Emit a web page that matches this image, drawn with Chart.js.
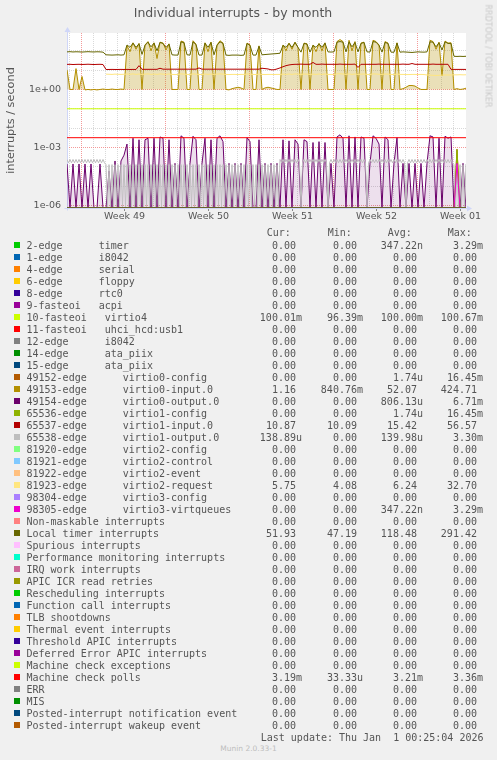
<!DOCTYPE html>
<html>
<head>
<meta charset="utf-8">
<script src="https://cdn.jsdelivr.net/npm/chart.js@4.4.1/dist/chart.umd.min.js"></script>
<style>
  html, body { margin: 0; padding: 0; background: #F0F0F0; }
  body { width: 497px; height: 760px; position: relative; overflow: hidden; }
  #chart { position: absolute; left: 0; top: 0; }
  .t { position: absolute; white-space: pre; font-family: 'DejaVu Sans Mono', monospace; font-size: 10px; line-height: 12px; color: #555; }
  .sw { position: absolute; width: 6px; height: 6px; }
  #rrd { position: absolute; left: 488px; top: 56px; transform: translate(-50%, -50%) rotate(90deg); white-space: nowrap; font-family: 'DejaVu Sans', sans-serif; font-size: 8px; color: #c8c8c8; }
  #munin { position: absolute; left: 0; width: 497px; top: 744px; text-align: center; font-family: 'DejaVu Sans', sans-serif; font-size: 7.5px; line-height: 10px; color: #bdbdbd; }
</style>
</head>
<body>
<canvas id="chart" width="497" height="230"></canvas>
<div id="rrd">RRDTOOL / TOBI OETIKER</div>
<div id="legend"></div>
<div id="munin">Munin 2.0.33-1</div>
<script>
// ---------- data ----------
const chartTitle = 'Individual interrupts - by month';
const yAxisTitle = 'interrupts / second';

// sample times, days from the left edge of the graph
const sampleDays = [0,0.25,0.5,0.75,1,1.25,1.5,1.75,2,2.25,2.5,2.75,3,3.25,3.5,3.75,4,4.25,4.5,4.75,5,5.25,5.5,5.75,6,6.25,6.5,6.75,7,7.25,7.5,7.75,8,8.25,8.5,8.75,9,9.25,9.5,9.75,10,10.25,10.5,10.75,11,11.25,11.5,11.75,12,12.25,12.5,12.75,13,13.25,13.5,13.75,14,14.25,14.5,14.75,15,15.25,15.5,15.75,16,16.25,16.5,16.75,17,17.25,17.5,17.75,18,18.25,18.5,18.75,19,19.25,19.5,19.75,20,20.25,20.5,20.75,21,21.25,21.5,21.75,22,22.25,22.5,22.75,23,23.25,23.5,23.75,24,24.25,24.5,24.75,25,25.25,25.5,25.75,26,26.25,26.5,26.75,27,27.25,27.5,27.75,28,28.25,28.5,28.75,29,29.25,29.5,29.75,30,30.25,30.5,30.75,31,31.25,31.5,31.75,32,32.25,32.5,32.75,33,33.25];
// finer sample times used for the virtio1-output series
const fineDays = [
 0,0.125,0.25,0.375,0.5,0.625,0.75,0.875, 1,1.125,1.25,1.375,1.5,1.625,1.75,1.875,
 2,2.125,2.25,2.375,2.5,2.625,2.75,2.875, 3,3.125,3.25,3.375,3.5,3.625,3.75,3.875,
 4,4.125,4.25,4.375,4.5,4.625,4.75,4.875, 5,5.125,5.25,5.375,5.5,5.625,5.75,5.875,
 6,6.125,6.25,6.375,6.5,6.625,6.75,6.875, 7,7.125,7.25,7.375,7.5,7.625,7.75,7.875,
 8,8.125,8.25,8.375,8.5,8.625,8.75,8.875, 9,9.125,9.25,9.375,9.5,9.625,9.75,9.875,
 10,10.125,10.25,10.375,10.5,10.625,10.75,10.875, 11,11.125,11.25,11.375,11.5,11.625,11.75,11.875,
 12,12.125,12.25,12.375,12.5,12.625,12.75,12.875, 13,13.125,13.25,13.375,13.5,13.625,13.75,13.875,
 14,14.125,14.25,14.375,14.5,14.625,14.75,14.875, 15,15.125,15.25,15.375,15.5,15.625,15.75,15.875,
 16,16.125,16.25,16.375,16.5,16.625,16.75,16.875, 17,17.125,17.25,17.375,17.5,17.625,17.75,17.875,
 18,18.125,18.25,18.375,18.5,18.625,18.75,18.875, 19,19.125,19.25,19.375,19.5,19.625,19.75,19.875,
 20,20.125,20.25,20.375,20.5,20.625,20.75,20.875, 21,21.125,21.25,21.375,21.5,21.625,21.75,21.875,
 22,22.125,22.25,22.375,22.5,22.625,22.75,22.875, 23,23.125,23.25,23.375,23.5,23.625,23.75,23.875,
 24,24.125,24.25,24.375,24.5,24.625,24.75,24.875, 25,25.125,25.25,25.375,25.5,25.625,25.75,25.875,
 26,26.125,26.25,26.375,26.5,26.625,26.75,26.875, 27,27.125,27.25,27.375,27.5,27.625,27.75,27.875,
 28,28.125,28.25,28.375,28.5,28.625,28.75,28.875, 29,29.125,29.25,29.375,29.5,29.625,29.75,29.875,
 30,30.125,30.25,30.375,30.5,30.625,30.75,30.875, 31,31.125,31.25,31.375,31.5,31.625,31.75,31.875,
 32,32.125,32.25,32.375,32.5,32.625,32.75,32.875, 33,33.125,33.25];
const flatDays = [0, 33.25];
const spikeDays = [0, 32.25, 32.5, 32.75, 33.25];

// 49153-edge virtio0-input.0
const virtio0Input = [
 10.4,1.0,1.0,12,1.0,4.7,0.95,1.0,0.95,1.0,
 0.95,1.0,1.05,1.0,1.0,1.05,1.0,1.0,1.05,1.0,
 180,90,260,120,240,1.0,200,300,100,260,
 40,280,250,110,230,1.0,1.0,1.0,320,280,
 1.0,1.0,330,220,1.0,1.0,260,90,280,1.0,
 200,330,250,1.0,0.95,1.1,1.2,1.3,1.2,1.0,
 250,200,1.0,1.0,180,1.0,1.2,1.3,1.2,1.1,
 1.0,1.0,200,100,250,120,280,150,1.0,250,
 230,1.0,200,90,240,100,260,1.0,1.0,1.0,
 300,380,300,1.0,350,100,300,1.0,250,280,
 1.0,1.0,350,300,200,1.0,300,250,1.0,1.0,
 260,1.0,1.1,1.3,1.6,1.6,1.5,1.2,1.0,1.0,
 1.0,350,300,120,280,5,320,250,260,1.0,
 1.1,1.0,1.05,1.16];

// Local timer interrupts
const localTimer = [
 88,90,87,89,88,86,88,90,88,87,
 89,88,85,62,61,60,61,62,60,62,
 200,150,250,150,230,65,190,280,160,250,
 100,270,240,150,220,62,60,60,290,260,
 62,60,290,210,60,60,250,150,270,62,
 190,290,240,60,58,60,60,60,58,60,
 240,190,60,60,170,62,64,66,68,70,
 72,75,190,150,240,150,270,150,85,240,
 220,85,190,150,230,150,250,88,86,88,
 280,300,280,88,290,160,270,88,240,270,
 88,86,300,280,190,85,270,240,85,84,
 250,85,88,86,84,82,85,88,86,85,
 88,290,280,160,260,110,290,240,240,52,
 51,52,51,52];

// 65537-edge virtio1-input.0
const virtio1Input = [
 19.8,20,19.5,19.8,20,19.6,19.8,20.2,19.8,19.5,
 19.8,20,19.5,10.8,10.8,10.9,10.8,10.8,10.9,10.8,
 10.9,10.8,10.9,10.8,17,11,11,11,11,11,
 11,12.5,11.2,11.2,11.2,11.2,11.2,11.2,11.2,11.2,
 11.2,11.2,11.2,11.2,13,11.2,11.2,11.2,11.2,11.2,
 11.2,11.2,11.2,11.2,11.2,11.2,11.2,11.2,11.2,11.2,
 11.2,11.2,11.2,11.2,11.2,12.5,12,11.5,10.4,10.4,
 11.5,13,15,17,18.5,19.5,20,20,20.5,20,
 20,20,25,20,20,20.5,20,20,20,20,
 20,20.5,20,20,20,20,20.5,13.8,20,20,
 20,20,20,20,20.5,20,20,20,20,20,
 20,20,20.5,20,20,22,20,20,20,20,
 20,20,20.5,20,20,20,20,20,11,10.9,
 10.9,10.9,10.9,10.87];

// 81923-edge virtio2-request (device not present at the start)
const virtio2Request = [
 null,null,null,null,null,null,null,null,null,null,
 null,null,null,6.2,6.1,6.0,6.2,6.1,6.0,6.1,
 6.3,6.1,6.4,6.0,6.3,6.0,6.2,6.4,6.0,6.3,
 6.0,6.4,6.2,6.0,6.3,6.0,5.9,6.0,6.4,6.2,
 6.0,5.9,6.4,6.2,6.0,5.9,6.3,6.0,6.3,6.0,
 6.2,6.4,6.2,6.0,5.9,6.0,6.0,5.9,6.0,6.0,
 6.3,6.2,6.0,5.9,6.2,6.0,5.9,6.0,6.0,5.9,
 6.0,6.0,6.2,6.0,6.3,6.0,6.4,6.2,6.0,6.3,
 6.2,6.0,6.2,6.0,6.3,6.0,6.3,6.0,6.0,5.9,
 6.4,6.5,6.3,6.0,6.4,6.0,6.3,6.0,6.2,6.3,
 6.0,5.9,6.4,6.3,6.1,6.0,6.3,6.2,6.0,5.9,
 6.3,6.0,6.0,5.9,5.9,6.0,6.0,5.9,6.0,5.9,
 5.6,5.5,5.4,5.3,5.4,5.5,5.6,5.6,5.6,5.7,
 5.7,5.8,5.7,5.75];

// 49154-edge virtio0-output.0
const virtio0Output = [
 1.4e-4,0,1.4e-4,0,1.4e-4,0,1.4e-4,0,1.4e-4,0,
 0,1.4e-4,0,0,6e-5,0,2e-4,0,2e-4,4e-4,
 1.5e-3,0,3e-3,0,2.5e-3,0,2.5e-3,3e-3,0,3e-3,
 0,3.5e-3,3e-3,0,2.5e-3,0,1.5e-4,0,4e-3,3e-3,
 0,1.5e-4,3.8e-3,2.5e-3,0,1.5e-4,3e-3,0,2.5e-3,0,
 3e-3,4e-3,2e-3,0,1.5e-4,0,1.5e-4,0,1.5e-4,0,
 3.2e-3,2e-3,0,0,2.5e-3,0,1.5e-4,0,1.5e-4,0,
 1.5e-4,0,2.5e-3,0,2.2e-3,0,2.5e-3,1.5e-3,0,2.5e-3,
 2e-3,0,1.8e-3,0,2e-3,0,1.8e-3,0,1.5e-4,0,
 3.5e-3,4.5e-3,3e-3,0,4e-3,0,3.5e-3,0,3.5e-3,3e-3,
 0,1.5e-4,4e-3,3e-3,1.5e-3,0,3.5e-3,2.5e-3,0,1.5e-4,
 3.2e-3,0,1.5e-4,0,1.5e-4,0,1.5e-4,0,1.5e-4,0,
 1.5e-4,4e-3,3.5e-3,0,3e-3,0,3.8e-3,3e-3,3.5e-3,0,
 1.5e-4,0,1.5e-4,0];

// 65538-edge virtio1-output.0 (on fineDays, 8 samples per day per row)
const virtio1Output = [
 2.4e-4,1.6e-4,2.4e-4,1.6e-4,2.4e-4,1.6e-4,2.4e-4,1.6e-4,
 2.4e-4,1.6e-4,2.4e-4,1.6e-4,2.4e-4,1.6e-4,2.4e-4,1.6e-4,
 2.4e-4,1.6e-4,2.4e-4,1.6e-4,2.4e-4,1.6e-4,2.4e-4,1.6e-4,
 2.4e-4,1.6e-4,1.3e-4,0,1.3e-4,0,1.3e-4,0,
 1.3e-4,0,1.3e-4,0,1.3e-4,0,1.3e-4,0,
 1.3e-4,0,1.3e-4,0,1.3e-4,0,1.3e-4,0,
 1.3e-4,0,1.3e-4,0,1.3e-4,0,1.3e-4,0,
 1.3e-4,0,1.3e-4,0,1.3e-4,0,1.3e-4,0,
 1.3e-4,0,1.3e-4,0,1.3e-4,0,1.3e-4,0,
 1.3e-4,0,1.3e-4,0,1.3e-4,0,1.3e-4,0,
 1.3e-4,0,1.3e-4,0,1.3e-4,0,1.3e-4,0,
 1.3e-4,0,1.3e-4,0,1.3e-4,0,1.3e-4,0,
 1.3e-4,0,1.3e-4,0,1.3e-4,0,1.3e-4,0,
 1.3e-4,0,1.3e-4,0,1.3e-4,0,1.3e-4,0,
 1.3e-4,0,1.3e-4,0,1.3e-4,0,1.3e-4,0,
 1.3e-4,0,1.3e-4,0,1.3e-4,0,1.3e-4,0,
 1.3e-4,0,1.3e-4,0,1.3e-4,0,1.3e-4,0,
 1.3e-4,0,1.3e-4,0,1.3e-4,0,2.4e-4,1.6e-4,
 2.4e-4,1.6e-4,2.4e-4,1.6e-4,2.4e-4,1.6e-4,2.4e-4,1.6e-4,
 2.4e-4,1.6e-4,2.4e-4,1.6e-4,0,1.6e-4,2.4e-4,1.6e-4,
 2.4e-4,1.6e-4,2.4e-4,1.6e-4,2.4e-4,1.6e-4,2.4e-4,1.6e-4,
 2.4e-4,1.6e-4,2.4e-4,1.6e-4,2.4e-4,1.6e-4,0,1.6e-4,
 2.4e-4,1.6e-4,2.4e-4,1.6e-4,2.4e-4,1.6e-4,2.4e-4,1.6e-4,
 2.4e-4,1.6e-4,2.4e-4,1.6e-4,2.4e-4,1.6e-4,2.4e-4,1.6e-4,
 2.4e-4,1.6e-4,2.4e-4,1.6e-4,2.4e-4,1.6e-4,2.4e-4,1.6e-4,
 0,1.6e-4,2.4e-4,1.6e-4,2.4e-4,1.6e-4,2.4e-4,1.6e-4,
 2.4e-4,1.6e-4,2.4e-4,1.6e-4,2.4e-4,1.6e-4,2.4e-4,1.6e-4,
 2.4e-4,1.6e-4,2.4e-4,1.6e-4,2.4e-4,1.6e-4,2.4e-4,1.6e-4,
 2.4e-4,1.6e-4,0,1.6e-4,2.4e-4,1.6e-4,2.4e-4,1.6e-4,
 2.4e-4,1.6e-4,2.4e-4,1.6e-4,2.4e-4,1.6e-4,2.4e-4,1.6e-4,
 2.4e-4,1.6e-4,2.4e-4,1.6e-4,2.4e-4,1.6e-4,2.4e-4,1.6e-4,
 2.4e-4,1.6e-4,2.4e-4,1.6e-4,2.4e-4,1.6e-4,2.4e-4,1.6e-4,
 2.4e-4,1.6e-4,1.3e-4,0,1.3e-4,0,1.3e-4,0,
 1.3e-4,0,1.39e-4];

const virtio4Flat = [0.1, 0.1];
const machineCheckPollsFlat = [3.2e-3, 3.2e-3];
const zeroFlat = [0, 0];
const timerSpike = [0, 0, 1.5e-4, 0, 0];
const virtio3Spike = [0, 0, 1.5e-4, 0, 0];
const virtio0ConfigSpike = [0, 0, 8e-4, 0, 0];
const virtio1ConfigSpike = [0, 0, 8e-4, 0, 0];

// legend
const legendLabels = [
 '2-edge      timer','1-edge      i8042','4-edge      serial','6-edge      floppy','8-edge      rtc0',
 '9-fasteoi   acpi','10-fasteoi   virtio4','11-fasteoi   uhci_hcd:usb1','12-edge      i8042',
 '14-edge      ata_piix','15-edge      ata_piix','49152-edge      virtio0-config',
 '49153-edge      virtio0-input.0','49154-edge      virtio0-output.0','65536-edge      virtio1-config',
 '65537-edge      virtio1-input.0','65538-edge      virtio1-output.0','81920-edge      virtio2-config',
 '81921-edge      virtio2-control','81922-edge      virtio2-event','81923-edge      virtio2-request',
 '98304-edge      virtio3-config','98305-edge      virtio3-virtqueues','Non-maskable interrupts',
 'Local timer interrupts','Spurious interrupts','Performance monitoring interrupts','IRQ work interrupts',
 'APIC ICR read retries','Rescheduling interrupts','Function call interrupts','TLB shootdowns',
 'Thermal event interrupts','Threshold APIC interrupts','Deferred Error APIC interrupts',
 'Machine check exceptions','Machine check polls','ERR','MIS','Posted-interrupt notification event',
 'Posted-interrupt wakeup event'];

const seriesColors = [
 '#00CC00','#0066B3','#FF8000','#FFCC00','#330099','#990099','#CCFF00','#FF0000','#808080','#008F00',
 '#00487D','#B35A00','#B38F00','#6B006B','#8FB300','#B30000','#BEBEBE','#80FF80','#80C9FF','#FFC080',
 '#FFE680','#AA80FF','#EE00CC','#FF8080','#666600','#FFBFFF','#00FFCC','#CC6699','#999900','#00CC00',
 '#0066B3','#FF8000','#FFCC00','#330099','#990099','#CCFF00','#FF0000','#808080','#008F00','#00487D',
 '#B35A00'];

const curText = ['0.00','0.00','0.00','0.00','0.00','0.00','100.01m','0.00','0.00','0.00','0.00','0.00','1.16','0.00','0.00','10.87','138.89u','0.00','0.00','0.00','5.75','0.00','0.00','0.00','51.93','0.00','0.00','0.00','0.00','0.00','0.00','0.00','0.00','0.00','0.00','0.00','3.19m','0.00','0.00','0.00','0.00'];
const minText = ['0.00','0.00','0.00','0.00','0.00','0.00','96.39m','0.00','0.00','0.00','0.00','0.00','840.76m','0.00','0.00','10.09','0.00','0.00','0.00','0.00','4.08','0.00','0.00','0.00','47.19','0.00','0.00','0.00','0.00','0.00','0.00','0.00','0.00','0.00','0.00','0.00','33.33u','0.00','0.00','0.00','0.00'];
const avgText = ['347.22n','0.00','0.00','0.00','0.00','0.00','100.00m','0.00','0.00','0.00','0.00','1.74u','52.07','806.13u','1.74u','15.42','139.98u','0.00','0.00','0.00','6.24','0.00','347.22n','0.00','118.48','0.00','0.00','0.00','0.00','0.00','0.00','0.00','0.00','0.00','0.00','0.00','3.21m','0.00','0.00','0.00','0.00'];
const maxText = ['3.29m','0.00','0.00','0.00','0.00','0.00','100.67m','0.00','0.00','0.00','0.00','16.45m','424.71','6.71m','16.45m','56.57','3.30m','0.00','0.00','0.00','32.70','0.00','3.29m','0.00','291.42','0.00','0.00','0.00','0.00','0.00','0.00','0.00','0.00','0.00','0.00','0.00','3.36m','0.00','0.00','0.00','0.00'];
const columnHeads = ['Cur:','Min:','Avg:','Max:'];
const lastUpdate = 'Last update: Thu Jan  1 00:25:04 2026';

// axes
const dayGridDays = [0.225,1.225,2.225,3.225,4.225,5.225,6.225,7.225,8.225,9.225,10.225,11.225,12.225,13.225,14.225,15.225,16.225,17.225,18.225,19.225,20.225,21.225,22.225,23.225,24.225,25.225,26.225,27.225,28.225,29.225,30.225,31.225,32.225];
const weekStartDays = [1.225, 8.225, 15.225, 22.225, 29.225];
const weekLabelDays = [4.8, 11.8, 18.8, 25.8, 32.8];
const weekLabels = ['Week 49', 'Week 50', 'Week 51', 'Week 52', 'Week 01'];
const yTickValues = [1e-6, 1e-5, 1e-4, 1e-3, 1e-2, 1e-1, 1e0, 1e1, 1e2];
const yTickLabels = ['1e-06', '', '', '1e-03', '', '', '1e+00', '', ''];
const xRange = [0, 33.25];
const yRange = [7.4e-7, 832];

// which source feeds each legend row
const seriesSource = [
 [spikeDays, timerSpike],[flatDays, zeroFlat],[flatDays, zeroFlat],[flatDays, zeroFlat],[flatDays, zeroFlat],
 [flatDays, zeroFlat],[flatDays, virtio4Flat],[flatDays, zeroFlat],[flatDays, zeroFlat],[flatDays, zeroFlat],
 [flatDays, zeroFlat],[spikeDays, virtio0ConfigSpike],[sampleDays, virtio0Input],[sampleDays, virtio0Output],
 [spikeDays, virtio1ConfigSpike],[sampleDays, virtio1Input],[fineDays, virtio1Output],[flatDays, zeroFlat],
 [flatDays, zeroFlat],[flatDays, zeroFlat],[sampleDays, virtio2Request],[flatDays, zeroFlat],[spikeDays, virtio3Spike],
 [flatDays, zeroFlat],[sampleDays, localTimer],[flatDays, zeroFlat],[flatDays, zeroFlat],[flatDays, zeroFlat],
 [flatDays, zeroFlat],[flatDays, zeroFlat],[flatDays, zeroFlat],[flatDays, zeroFlat],[flatDays, zeroFlat],
 [flatDays, zeroFlat],[flatDays, zeroFlat],[flatDays, zeroFlat],[flatDays, machineCheckPollsFlat],[flatDays, zeroFlat],
 [flatDays, zeroFlat],[flatDays, zeroFlat],[flatDays, zeroFlat]];

// light shading of the busy (rapidly oscillating) stretches
const shading = {
  12: { fill: { value: 1 }, backgroundColor: 'rgba(179,143,0,0.28)' },
  13: { fill: 'start', backgroundColor: 'rgba(107,0,107,0.12)' }
};

// ---------- style ----------
const AXIS_COLOR = '#CFD6F8';
const GRID_COLOR = 'rgba(191,191,191,0.6)';
const MGRID_COLOR = 'rgba(240,120,120,0.75)';
const FONT = "'DejaVu Sans', sans-serif";
const near = (a, list) => list.some(v => Math.abs(v - a) < 1e-6);

const datasets = seriesSource.map(([days, vals], i) => Object.assign({
  label: legendLabels[i],
  data: days.map((d, k) => ({ x: d, y: vals[k] })),
  borderColor: seriesColors[i],
  backgroundColor: seriesColors[i],
  borderWidth: 1,
  pointRadius: 0,
  tension: 0,
  fill: false,
  spanGaps: false,
  order: seriesSource.length - i
}, shading[i] || {}));

const bgPlugin = {
  id: 'canvasBg',
  beforeDraw(chart) {
    const { ctx, chartArea: a } = chart;
    ctx.save();
    ctx.fillStyle = '#FFFFFF';
    ctx.fillRect(a.left, a.top, a.right - a.left, a.bottom - a.top);
    ctx.restore();
  }
};
const axisPlugin = {
  id: 'rrdAxes',
  beforeDatasetsDraw(chart) {
    const { ctx, chartArea: a } = chart;
    const x0 = Math.round(a.left) + 0.5, y0 = Math.round(a.bottom) + 0.5;
    ctx.save();
    ctx.strokeStyle = AXIS_COLOR; ctx.fillStyle = AXIS_COLOR; ctx.lineWidth = 1;
    ctx.beginPath();
    ctx.moveTo(x0, y0 + 2); ctx.lineTo(x0, a.top - 3);
    ctx.moveTo(x0 - 3, y0); ctx.lineTo(a.right + 3, y0);
    ctx.stroke();
    ctx.beginPath();
    ctx.moveTo(x0 - 3, a.top - 1); ctx.lineTo(x0 + 3, a.top - 1); ctx.lineTo(x0, a.top - 6); ctx.closePath(); ctx.fill();
    ctx.beginPath();
    ctx.moveTo(a.right + 1, y0 - 3); ctx.lineTo(a.right + 1, y0 + 3); ctx.lineTo(a.right + 6, y0); ctx.closePath(); ctx.fill();
    ctx.restore();
  }
};

new Chart(document.getElementById('chart'), {
  type: 'line',
  data: { datasets },
  plugins: [bgPlugin, axisPlugin],
  options: {
    responsive: false,
    animation: false,
    devicePixelRatio: 1,
    parsing: false,
    normalized: true,
    layout: { padding: { left: 0, right: 31, top: 0, bottom: 0 } },
    plugins: {
      legend: { display: false },
      tooltip: { enabled: false },
      filler: { propagate: false },
      title: {
        display: true, text: chartTitle, color: '#555',
        font: { family: FONT, size: 12.5, weight: 'normal', lineHeight: 1.2 },
        padding: { top: 6, bottom: 12 }
      }
    },
    scales: {
      x: {
        type: 'linear', min: xRange[0], max: xRange[1], bounds: 'data',
        afterBuildTicks: s => { s.ticks = dayGridDays.concat(weekLabelDays).sort((a, b) => a - b).map(v => ({ value: v })); },
        afterFit: s => { s.height = 22; },
        ticks: {
          autoSkip: false, maxRotation: 0, minRotation: 0, padding: 0, color: '#555',
          font: { family: FONT, size: 9.5 },
          callback: v => { const k = weekLabelDays.findIndex(w => Math.abs(w - v) < 1e-6); return k >= 0 ? weekLabels[k] : ''; }
        },
        grid: {
          lineWidth: 1, tickLength: 3, drawTicks: true,
          color: c => near(c.tick.value, weekStartDays) ? MGRID_COLOR : (near(c.tick.value, weekLabelDays) ? 'rgba(0,0,0,0)' : GRID_COLOR),
          tickColor: c => near(c.tick.value, weekLabelDays) ? '#888' : 'rgba(0,0,0,0)'
        },
        border: { display: false, dash: [1, 1] }
      },
      y: {
        type: 'logarithmic', min: yRange[0], max: yRange[1], bounds: 'data',
        afterBuildTicks: s => { s.ticks = yTickValues.map(v => ({ value: v })); },
        afterFit: s => { s.width = 67; },
        ticks: {
          padding: 3, color: '#555', autoSkip: false,
          font: { family: FONT, size: 9.5 },
          callback: v => { const k = yTickValues.findIndex(t => Math.abs(Math.log10(t) - Math.log10(v)) < 1e-6); return k >= 0 ? yTickLabels[k] : ''; }
        },
        grid: {
          lineWidth: 1, tickLength: 3, drawTicks: true,
          color: c => { const k = yTickValues.findIndex(t => Math.abs(Math.log10(t) - Math.log10(c.tick.value)) < 1e-6); return (k >= 0 && yTickLabels[k]) ? MGRID_COLOR : GRID_COLOR; },
          tickColor: 'rgba(0,0,0,0)'
        },
        border: { display: false, dash: [1, 1] },
        title: {
          display: true, text: yAxisTitle, color: '#555',
          font: { family: FONT, size: 11.3 }, padding: { top: 4, bottom: 0 }
        }
      }
    }
  }
});

// ---------- legend (HTML text) ----------
const legend = document.getElementById('legend');
const colRight = [302, 363, 423, 483];
const headLeft = [266.7, 327.7, 387.7, 447.7];
const addText = (txt, style) => {
  const d = document.createElement('div');
  d.className = 't';
  d.textContent = txt;
  Object.assign(d.style, style);
  legend.appendChild(d);
};
const withSuffix = s => /[0-9]$/.test(s) ? s + ' ' : s;
columnHeads.forEach((h, j) => addText(h, { left: headLeft[j] + 'px', top: '227px' }));
legendLabels.forEach((lab, i) => {
  const yc = 245.7 + 12 * i;
  const sw = document.createElement('div');
  sw.className = 'sw';
  sw.style.left = '14px';
  sw.style.top = Math.round(yc - 3.4) + 'px';
  sw.style.background = seriesColors[i];
  legend.appendChild(sw);
  const top = Math.round(yc - 6) + 'px';
  addText(lab, { left: '26.5px', top });
  [curText, minText, avgText, maxText].forEach((arr, j) => {
    addText(withSuffix(arr[i]), { right: (497 - colRight[j]) + 'px', top });
  });
});
addText(lastUpdate, { right: (497 - 483.5) + 'px', top: (737.7 - 6) + 'px' });
</script>
</body>
</html>
